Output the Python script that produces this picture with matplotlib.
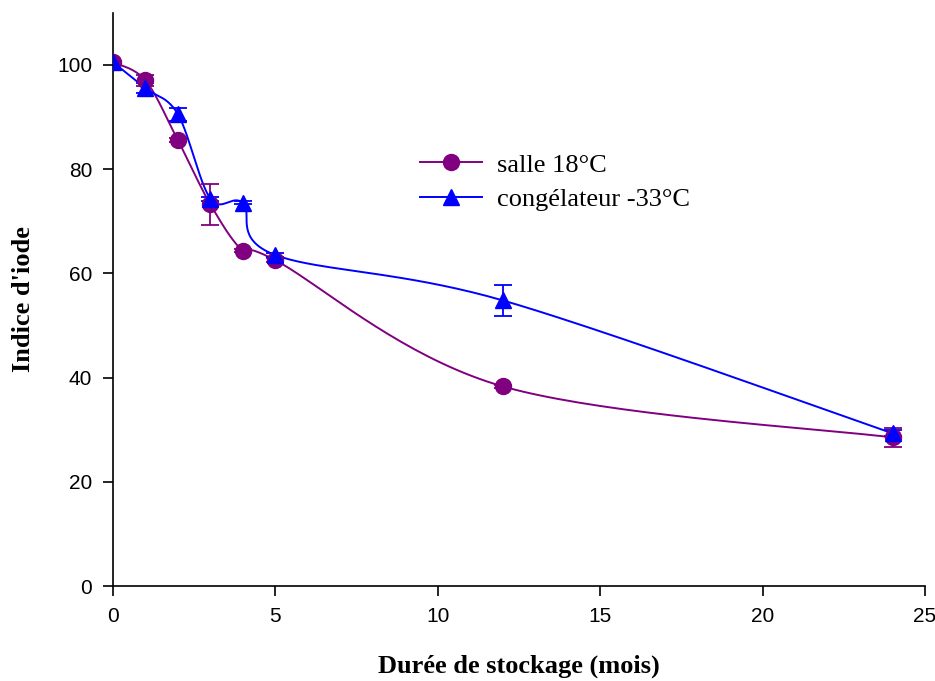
import numpy as np
import matplotlib
matplotlib.use("Agg")
import matplotlib.pyplot as plt

months = [0, 1, 2, 3, 4, 5, 12, 24]
salle = [100.5, 97.0, 85.5, 73.2, 64.3, 62.5, 38.3, 28.5]
salle_err = [0.3, 1.0, 0.4, 3.9, 0.3, 0.4, 0.3, 1.9]
congel = [100.5, 95.5, 90.5, 74.3, 73.5, 63.5, 54.8, 29.3]
congel_err = [0.3, 1.0, 1.2, 0.4, 0.3, 0.3, 3.0, 0.6]

def smooth(xs, ys, n=40):
    xs = np.asarray(xs, float); ys = np.asarray(ys, float)
    P = np.column_stack([xs, ys])
    out = []
    for i in range(len(P) - 1):
        p0 = P[i - 1] if i > 0 else P[i]
        p1 = P[i]; p2 = P[i + 1]
        p3 = P[i + 2] if i + 2 < len(P) else P[i + 1]
        c1 = p1 + (p2 - p0) / 6.0
        c2 = p2 - (p3 - p1) / 6.0
        t = np.linspace(0, 1, n)[:, None]
        seg = ((1 - t) ** 3) * p1 + 3 * ((1 - t) ** 2) * t * c1 + 3 * (1 - t) * t ** 2 * c2 + t ** 3 * p2
        out.append(seg if i == 0 else seg[1:])
    S = np.vstack(out)
    return S[:, 0], S[:, 1]

purple = "#800080"
blue = "#0000FF"

fig = plt.figure(figsize=(9.35, 6.81), dpi=100)
ax = fig.add_axes([113/935, 95/681, (925-113)/935, (586-12.7)/681])

for x, y, e, c, m, ms, lab in [
    (months, salle, salle_err, purple, "o", 11.5, "salle 18°C"),
    (months, congel, congel_err, blue, "^", 11, "congélateur -33°C"),
]:
    sx, sy = smooth(x, y)
    ax.plot(sx, sy, color=c, lw=1.4, zorder=2)
    ax.errorbar(x, y, yerr=e, fmt="none", ecolor=c, elinewidth=1.3, capsize=6.5, capthick=1.3, zorder=3)
    ax.plot(x, y, linestyle="none", marker=m, color=c, ms=ms, zorder=4)
    ax.plot([], [], color=c, marker=m, ms=ms, lw=1.4, label=lab)

ax.set_xlim(0, 25)
ax.set_ylim(0, 110)
ax.set_xticks([0, 5, 10, 15, 20, 25])
ax.set_yticks([0, 20, 40, 60, 80, 100])
for s in ["top", "right"]:
    ax.spines[s].set_visible(False)
for s in ["left", "bottom"]:
    ax.spines[s].set_linewidth(1.2)
ax.tick_params(direction="out", length=7, width=1.2, labelsize=15, pad=8)
for lbl in ax.get_xticklabels() + ax.get_yticklabels():
    lbl.set_fontfamily("Liberation Sans")

ax.set_xlabel("Durée de stockage (mois)", fontsize=19, fontweight="bold", family="Liberation Serif", labelpad=21)
ax.set_ylabel("Indice d'iode", fontsize=19, fontweight="bold", family="Liberation Serif", labelpad=16)

leg = ax.legend(loc="upper left", bbox_to_anchor=(0.378, 0.755), frameon=False,
                prop={"family": "Liberation Serif", "size": 19}, handlelength=2.35,
                labelspacing=0.42, handletextpad=0.57, borderpad=0, borderaxespad=0)

fig.savefig("out.png", dpi=100)
